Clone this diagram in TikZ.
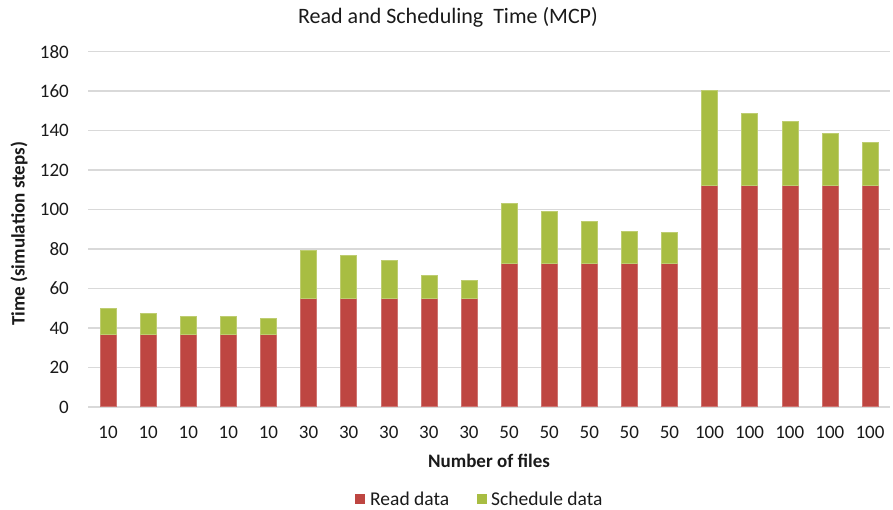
\documentclass[tikz,border=0pt]{standalone}
\usepackage{fontspec}
\setmainfont{Carlito}
\definecolor{readred}{HTML}{BE4641}
\definecolor{schedgreen}{HTML}{A8BD42}
\definecolor{gridgray}{HTML}{D9D9D9}
\definecolor{txt}{HTML}{1A1A1A}
\tikzset{
  gridline/.style={draw=gridgray, line width=1.5pt},
  ticklabel/.style={font=\fontsize{19}{21}\selectfont, text=txt, inner sep=0pt},
  axtitle/.style={font=\fontsize{19}{21}\selectfont\bfseries, text=txt, inner sep=0pt},
  legtext/.style={font=\fontsize{19.5}{21}\selectfont, text=txt, inner sep=0pt, anchor=west},
  readbar/.style={fill=readred, draw=readred!75!white, line width=0.5pt},
  schedbar/.style={fill=schedgreen, draw=schedgreen!75!white, line width=0.5pt}
}
\begin{document}
\begin{tikzpicture}[x=1pt,y=-1pt]
\useasboundingbox (0,0) rectangle (893,510);
\fill[white] (0,0) rectangle (893,510);
% title
\node[font=\fontsize{22}{24}\selectfont, text=txt, inner sep=0pt] (title) at (448,17) {Read and Scheduling\ \ Time (MCP)};
% gridlines and y labels
\foreach \v in {0,20,...,180} {
  \draw[gridline] (88,{407-1.974*\v}) -- (890,{407-1.974*\v});
  \node[ticklabel, anchor=east] (y\v) at (69,{407-1.974*\v}) {\v};
}
% bars
\foreach \rd/\tot/\lab [count=\i] in {
  36.8/50/10, 36.8/47.6/10, 36.8/46.1/10, 36.8/46.1/10, 36.8/45.1/10,
  55.2/79.2/30, 55.2/76.7/30, 55.2/74.3/30, 55.2/66.7/30, 55.2/64.3/30,
  72.6/103.3/50, 72.6/99.1/50, 72.6/94.2/50, 72.6/89.2/50, 72.6/88.3/50,
  112.3/160.6/100, 112.3/148.8/100, 112.3/144.7/100, 112.3/138.8/100, 112.3/134.1/100} {
  \pgfmathsetmacro\xc{88+40.1*(\i-0.5)}
  \filldraw[readbar] ({\xc-8},406.5) rectangle ({\xc+8},{407-1.974*\rd});
  \filldraw[schedbar] ({\xc-8},{407-1.974*\rd}) rectangle ({\xc+8},{407-1.974*\tot});
  \node[ticklabel] (x\i) at (\xc,432) {\lab};
}
% axis titles
\node[axtitle] (xtitle) at (489,461) {Number of files};
\node[axtitle, rotate=90] (ytitle) at (19,234) {Time (simulation steps)};
% legend
\fill[readred] (355,494) rectangle (365,504);
\node[legtext] (legread) at (370,499) {Read data};
\fill[schedgreen] (477,494) rectangle (487,504);
\node[legtext] (legsched) at (491,499) {Schedule data};
\end{tikzpicture}
\end{document}
